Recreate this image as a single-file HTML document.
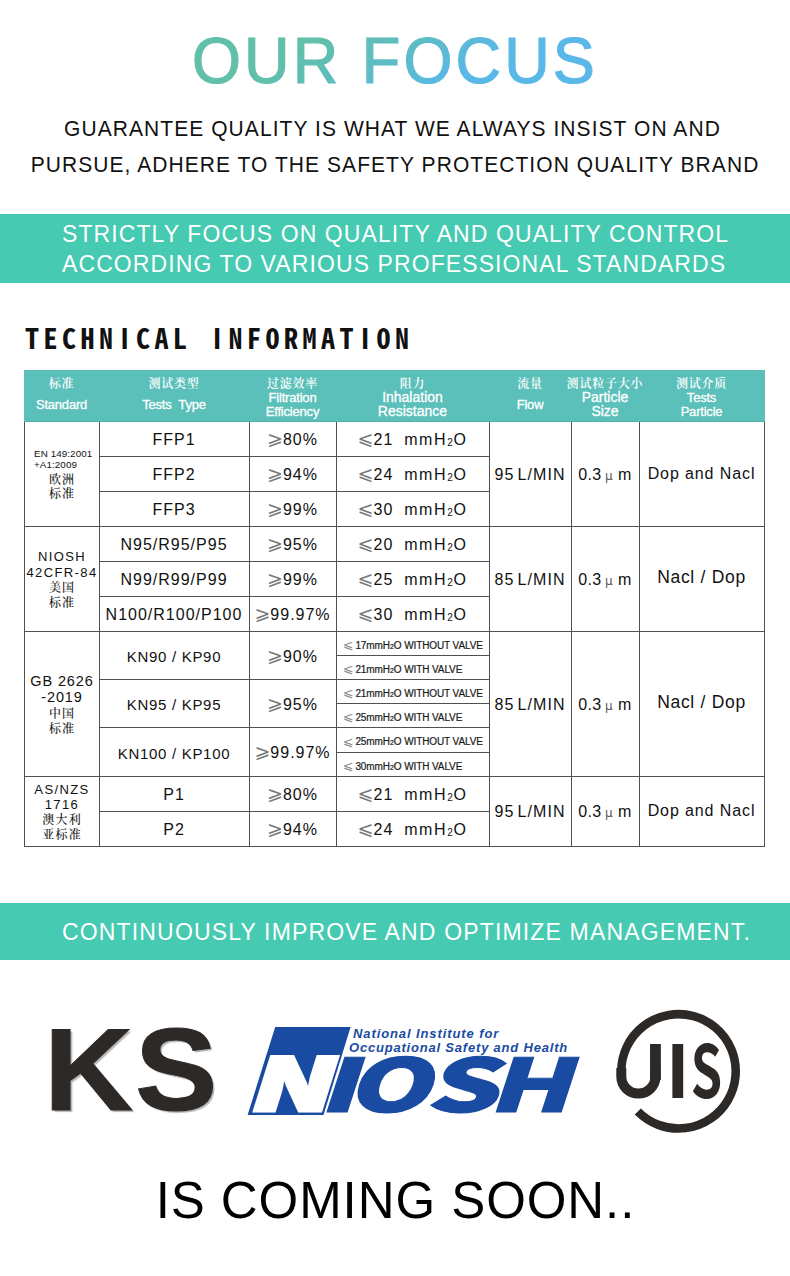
<!DOCTYPE html>
<html><head><meta charset="utf-8">
<style>
*{margin:0;padding:0;box-sizing:border-box}
html,body{width:790px;height:1276px;background:#fff;overflow:hidden}
body{position:relative;font-family:"Liberation Sans",Arial,sans-serif;color:#111}
.abs{position:absolute}
.sub{left:0;width:790px;text-align:center;font-size:21px;line-height:36px;letter-spacing:1.06px;color:#111;white-space:nowrap;transform:scaleY(1.08);transform-origin:0 27px}
.band{left:0;width:790px;background:#46cab1;color:#fff;font-size:23px;letter-spacing:1.09px;white-space:nowrap}
#band1{top:214px;height:69px;padding:5.3px 0 0 62px;line-height:30.1px}
#band2{top:903px;height:57px;padding:14px 0 0 62px;line-height:30px;letter-spacing:1.16px}
#tech{left:25px;top:320px;font-family:"Noto Sans Mono CJK SC","WenQuanYi Zen Hei Mono",monospace;font-weight:bold;font-size:28px;letter-spacing:4.5px;line-height:34px;color:#111}
.ti{display:inline-block;width:18.52px;padding-left:2.4px;letter-spacing:0;font-family:"Noto Sans CJK SC",sans-serif;font-weight:bold}
.hd{position:absolute;background:#5bbfba;border-bottom:1px solid #52b0a9}
.hl{position:absolute;height:1px;background:#505050}
.vl{position:absolute;width:1px;background:#505050}
.h,.c{position:absolute;text-align:center;color:#fff;white-space:nowrap}
.h{display:flex;flex-direction:column;align-items:center}
.c{display:flex;align-items:center;justify-content:center;color:#111;white-space:nowrap}
.hc{font-family:"Noto Serif CJK SC",serif;font-weight:600;font-size:12px;line-height:14px;letter-spacing:0.8px;margin-top:6px}
.he1{-webkit-text-stroke:0.3px #fff;font-size:13px;line-height:14px;margin-top:8px;letter-spacing:-0.2px;word-spacing:3.6px}
.he2{-webkit-text-stroke:0.3px #fff;font-size:13px;line-height:13.5px;margin-top:1px;letter-spacing:-0.2px}
.he2.big{font-size:14px;letter-spacing:0}
.tt{font-size:16px;letter-spacing:1px}
.tt>div,.mv>div{position:relative;top:1.3px}
.fl{letter-spacing:1.1px}
.md{letter-spacing:0.9px}
.md>div{top:0px}
.md2{font-size:17.5px;letter-spacing:0.7px}
.md2>div{top:-1px}
.kn{font-size:15px;letter-spacing:0.7px}
.kn>div{top:1.8px}
.ge{font-family:"DejaVu Sans",sans-serif;color:#777;font-size:19px;letter-spacing:0;line-height:16px}
.ge2{font-family:"DejaVu Sans",sans-serif;color:#888;-webkit-text-stroke:0;font-size:12.5px;font-weight:normal;margin-right:2px;position:relative;top:0.5px}
.mmu{letter-spacing:1.6px}
.s2b{font-size:7px;letter-spacing:0}
.s2{font-size:10px;letter-spacing:0.6px;position:relative;top:0.6px}
.mv{font-size:10px;color:#1a1a1a;-webkit-text-stroke:0.2px #1a1a1a;letter-spacing:-0.1px;justify-content:flex-start;padding-left:7px}
.sl{position:absolute;white-space:nowrap;color:#111}
.s1{font-size:9.8px;line-height:12px;letter-spacing:0.1px}
.s2l{font-size:13px;line-height:14px;letter-spacing:1.4px;padding-left:1px}
.s3{font-size:14.5px;line-height:15px;letter-spacing:0.9px;padding-left:1px}
.sc{font-family:"Noto Serif CJK SC",serif;font-weight:500;font-size:12px;line-height:14px;letter-spacing:1.2px;padding-left:1.2px}
.um{letter-spacing:0.3px}
.mu{font-family:"DejaVu Sans",sans-serif;font-size:12px;color:#555;margin:0 5.5px 0 3.5px;letter-spacing:0}
</style></head><body>
<svg class="abs" style="left:0;top:0" width="790" height="100" viewBox="0 0 790 100">
 <defs><linearGradient id="tg" gradientUnits="userSpaceOnUse" x1="124.2" y1="-49.9" x2="199.4" y2="64.8">
  <stop offset="0" stop-color="#61c0a7"/><stop offset="0.45" stop-color="#5dbcc4"/><stop offset="0.8" stop-color="#5ab8e4"/><stop offset="1" stop-color="#5ab8e8"/></linearGradient></defs>
 <text x="0" y="0" transform="translate(192,82.7) scale(1,1.025)" font-family="Liberation Sans" font-size="63" letter-spacing="3.1" fill="url(#tg)" stroke="url(#tg)" stroke-width="1.2">OUR FOCUS</text>
</svg>
<div class="abs sub" style="top:111px;padding-right:5px">GUARANTEE QUALITY IS WHAT WE ALWAYS INSIST ON AND</div>
<div class="abs sub" style="top:147px;padding-right:0px">PURSUE, ADHERE TO THE SAFETY PROTECTION QUALITY BRAND</div>
<div id="band1" class="abs band">STRICTLY FOCUS ON QUALITY AND QUALITY CONTROL<br>ACCORDING TO VARIOUS PROFESSIONAL STANDARDS</div>
<div id="tech" class="abs">TECHN<span class="ti">I</span>CAL <span class="ti">I</span>NFORMAT<span class="ti">I</span>ON</div>
<div class="hd" style="left:24px;top:370px;width:741px;height:52px"></div>
<div class="h" style="left:24px;top:370px;width:75px;height:51px;"><div class="hc">标准</div><div class="he1">Standard</div></div>
<div class="h" style="left:99px;top:370px;width:150px;height:51px;"><div class="hc">测试类型</div><div class="he1">Tests Type</div></div>
<div class="h" style="left:249px;top:370px;width:87px;height:51px;"><div class="hc">过滤效率</div><div class="he2">Filtration<br>Efficiency</div></div>
<div class="h" style="left:336px;top:370px;width:153px;height:51px;"><div class="hc">阻力</div><div class="he2 big">Inhalation<br>Resistance</div></div>
<div class="h" style="left:489px;top:370px;width:82px;height:51px;"><div class="hc">流量</div><div class="he1">Flow</div></div>
<div class="h" style="left:571px;top:370px;width:68px;height:51px;"><div class="hc">测试粒子大小</div><div class="he2 big">Particle<br>Size</div></div>
<div class="h" style="left:639px;top:370px;width:125px;height:51px;"><div class="hc">测试介质</div><div class="he2">Tests<br>Particle</div></div>
<div class="c tt" style="left:99px;top:421px;width:150px;height:35px;"><div>FFP1</div></div>
<div class="c tt" style="left:249px;top:421px;width:87px;height:35px;"><div><span class="ge">⩾</span>80%</div></div>
<div class="c tt" style="left:336px;top:421px;width:153px;height:35px;"><div><span class="ge">⩽</span>21&nbsp; <span class="mmu">mmH<span class="s2">2</span>O</span></div></div>
<div class="c tt" style="left:99px;top:456px;width:150px;height:35px;"><div>FFP2</div></div>
<div class="c tt" style="left:249px;top:456px;width:87px;height:35px;"><div><span class="ge">⩾</span>94%</div></div>
<div class="c tt" style="left:336px;top:456px;width:153px;height:35px;"><div><span class="ge">⩽</span>24&nbsp; <span class="mmu">mmH<span class="s2">2</span>O</span></div></div>
<div class="hl" style="left:99px;top:456px;width:391px"></div>
<div class="c tt" style="left:99px;top:491px;width:150px;height:35px;"><div>FFP3</div></div>
<div class="c tt" style="left:249px;top:491px;width:87px;height:35px;"><div><span class="ge">⩾</span>99%</div></div>
<div class="c tt" style="left:336px;top:491px;width:153px;height:35px;"><div><span class="ge">⩽</span>30&nbsp; <span class="mmu">mmH<span class="s2">2</span>O</span></div></div>
<div class="hl" style="left:99px;top:491px;width:391px"></div>
<div class="c tt fl" style="left:489px;top:421px;width:82px;height:105px;"><div>95<span style="margin-left:3px">L/MIN</span></div></div>
<div class="c tt um" style="left:571px;top:421px;width:68px;height:105px;"><div>0.3<span class="mu">μ</span>m</div></div>
<div class="c tt md" style="left:639px;top:421px;width:125px;height:105px;"><div>Dop and Nacl</div></div>
<div class="hl" style="left:24px;top:526px;width:741px"></div>
<div class="c tt" style="left:99px;top:526px;width:150px;height:35px;"><div>N95/R95/P95</div></div>
<div class="c tt" style="left:249px;top:526px;width:87px;height:35px;"><div><span class="ge">⩾</span>95%</div></div>
<div class="c tt" style="left:336px;top:526px;width:153px;height:35px;"><div><span class="ge">⩽</span>20&nbsp; <span class="mmu">mmH<span class="s2">2</span>O</span></div></div>
<div class="c tt" style="left:99px;top:561px;width:150px;height:35px;"><div>N99/R99/P99</div></div>
<div class="c tt" style="left:249px;top:561px;width:87px;height:35px;"><div><span class="ge">⩾</span>99%</div></div>
<div class="c tt" style="left:336px;top:561px;width:153px;height:35px;"><div><span class="ge">⩽</span>25&nbsp; <span class="mmu">mmH<span class="s2">2</span>O</span></div></div>
<div class="hl" style="left:99px;top:561px;width:391px"></div>
<div class="c tt" style="left:99px;top:596px;width:150px;height:35px;"><div>N100/R100/P100</div></div>
<div class="c tt" style="left:249px;top:596px;width:87px;height:35px;"><div><span class="ge">⩾</span>99.97%</div></div>
<div class="c tt" style="left:336px;top:596px;width:153px;height:35px;"><div><span class="ge">⩽</span>30&nbsp; <span class="mmu">mmH<span class="s2">2</span>O</span></div></div>
<div class="hl" style="left:99px;top:596px;width:391px"></div>
<div class="c tt fl" style="left:489px;top:526px;width:82px;height:105px;"><div>85<span style="margin-left:3px">L/MIN</span></div></div>
<div class="c tt um" style="left:571px;top:526px;width:68px;height:105px;"><div>0.3<span class="mu">μ</span>m</div></div>
<div class="c tt md2" style="left:639px;top:526px;width:125px;height:105px;"><div>Nacl / Dop</div></div>
<div class="hl" style="left:24px;top:631px;width:741px"></div>
<div class="c tt kn" style="left:99px;top:631px;width:150px;height:48px;"><div>KN90 / KP90</div></div>
<div class="c tt" style="left:249px;top:631px;width:87px;height:48px;"><div><span class="ge">⩾</span>90%</div></div>
<div class="c mv" style="left:336px;top:631px;width:153px;height:24px;"><div><span class="ge2">⩽</span>17mmH<span class="s2b">2</span>O WITHOUT VALVE</div></div>
<div class="c mv" style="left:336px;top:655px;width:153px;height:24px;"><div><span class="ge2">⩽</span>21mmH<span class="s2b">2</span>O WITH VALVE</div></div>
<div class="hl" style="left:336px;top:655px;width:154px"></div>
<div class="c tt kn" style="left:99px;top:679px;width:150px;height:48px;"><div>KN95 / KP95</div></div>
<div class="c tt" style="left:249px;top:679px;width:87px;height:48px;"><div><span class="ge">⩾</span>95%</div></div>
<div class="c mv" style="left:336px;top:679px;width:153px;height:24px;"><div><span class="ge2">⩽</span>21mmH<span class="s2b">2</span>O WITHOUT VALVE</div></div>
<div class="c mv" style="left:336px;top:703px;width:153px;height:24px;"><div><span class="ge2">⩽</span>25mmH<span class="s2b">2</span>O WITH VALVE</div></div>
<div class="hl" style="left:336px;top:703px;width:154px"></div>
<div class="hl" style="left:99px;top:679px;width:391px"></div>
<div class="c tt kn" style="left:99px;top:727px;width:150px;height:49px;"><div>KN100 / KP100</div></div>
<div class="c tt" style="left:249px;top:727px;width:87px;height:49px;"><div><span class="ge">⩾</span>99.97%</div></div>
<div class="c mv" style="left:336px;top:727px;width:153px;height:25px;"><div><span class="ge2">⩽</span>25mmH<span class="s2b">2</span>O WITHOUT VALVE</div></div>
<div class="c mv" style="left:336px;top:752px;width:153px;height:24px;"><div><span class="ge2">⩽</span>30mmH<span class="s2b">2</span>O WITH VALVE</div></div>
<div class="hl" style="left:336px;top:752px;width:154px"></div>
<div class="hl" style="left:99px;top:727px;width:391px"></div>
<div class="c tt fl" style="left:489px;top:631px;width:82px;height:145px;"><div>85<span style="margin-left:3px">L/MIN</span></div></div>
<div class="c tt um" style="left:571px;top:631px;width:68px;height:145px;"><div>0.3<span class="mu">μ</span>m</div></div>
<div class="c tt md2" style="left:639px;top:631px;width:125px;height:145px;"><div>Nacl / Dop</div></div>
<div class="hl" style="left:24px;top:776px;width:741px"></div>
<div class="c tt" style="left:99px;top:776px;width:150px;height:35px;"><div>P1</div></div>
<div class="c tt" style="left:249px;top:776px;width:87px;height:35px;"><div><span class="ge">⩾</span>80%</div></div>
<div class="c tt" style="left:336px;top:776px;width:153px;height:35px;"><div><span class="ge">⩽</span>21&nbsp; <span class="mmu">mmH<span class="s2">2</span>O</span></div></div>
<div class="c tt" style="left:99px;top:811px;width:150px;height:35px;"><div>P2</div></div>
<div class="c tt" style="left:249px;top:811px;width:87px;height:35px;"><div><span class="ge">⩾</span>94%</div></div>
<div class="c tt" style="left:336px;top:811px;width:153px;height:35px;"><div><span class="ge">⩽</span>24&nbsp; <span class="mmu">mmH<span class="s2">2</span>O</span></div></div>
<div class="hl" style="left:99px;top:811px;width:391px"></div>
<div class="c tt fl" style="left:489px;top:776px;width:82px;height:70px;"><div>95<span style="margin-left:3px">L/MIN</span></div></div>
<div class="c tt um" style="left:571px;top:776px;width:68px;height:70px;"><div>0.3<span class="mu">μ</span>m</div></div>
<div class="c tt md" style="left:639px;top:776px;width:125px;height:70px;"><div>Dop and Nacl</div></div>
<div class="hl" style="left:24px;top:846px;width:741px"></div>
<div class="sl s1" style="left:34px;top:448.0px">EN 149:2001</div>
<div class="sl s1" style="left:34px;top:459.0px">+A1:2009</div>
<div class="sl sc" style="left:24px;width:75px;text-align:center;top:472.0px">欧洲</div>
<div class="sl sc" style="left:24px;width:75px;text-align:center;top:486.0px">标准</div>
<div class="sl s2l" style="left:24px;width:75px;text-align:center;top:550.0px">NIOSH</div>
<div class="sl s2l" style="left:24px;width:75px;text-align:center;top:565.6px">42CFR-84</div>
<div class="sl sc" style="left:24px;width:75px;text-align:center;top:580.0px">美国</div>
<div class="sl sc" style="left:24px;width:75px;text-align:center;top:595.0px">标准</div>
<div class="sl s3" style="left:24px;width:75px;text-align:center;top:673.5px">GB 2626</div>
<div class="sl s3" style="left:24px;width:75px;text-align:center;top:690.3px">-2019</div>
<div class="sl sc" style="left:24px;width:75px;text-align:center;top:706.3px">中国</div>
<div class="sl sc" style="left:24px;width:75px;text-align:center;top:721.0px">标准</div>
<div class="sl s2l" style="left:24px;width:75px;text-align:center;top:782.7px">AS/NZS</div>
<div class="sl s2l" style="left:24px;width:75px;text-align:center;top:797.9px">1716</div>
<div class="sl sc" style="left:24px;width:75px;text-align:center;top:812.3px">澳大利</div>
<div class="sl sc" style="left:24px;width:75px;text-align:center;top:827.0px">亚标准</div>
<div class="vl" style="left:24px;top:422px;height:425px"></div>
<div class="vl" style="left:99px;top:422px;height:425px"></div>
<div class="vl" style="left:249px;top:422px;height:425px"></div>
<div class="vl" style="left:336px;top:422px;height:425px"></div>
<div class="vl" style="left:489px;top:422px;height:425px"></div>
<div class="vl" style="left:571px;top:422px;height:425px"></div>
<div class="vl" style="left:639px;top:422px;height:425px"></div>
<div class="vl" style="left:764px;top:422px;height:425px"></div>
<div id="band2" class="abs band">CONTINUOUSLY IMPROVE AND OPTIMIZE MANAGEMENT.</div>
<div id="ks" class="abs" style="left:44px;top:995px;font-weight:bold;font-size:116px;line-height:150px;color:#2d2927;letter-spacing:1.8px;transform:scaleX(1.063);transform-origin:0 0;text-shadow:2px 2px 1px #b5b5b5;-webkit-text-stroke:1px #2d2927">KS</div>
<svg class="abs" style="left:240px;top:1015px" width="350" height="110" viewBox="240 1015 350 110">
 <polygon points="275.2,1027 350.6,1027 323.5,1115 247.6,1115" fill="#1a4ba2"/>
 <text transform="translate(245.4,1110.6) skewX(-17.5) scale(1.51,1)" font-family="Noto Sans CJK SC" font-weight="900" font-size="73" fill="#fff" stroke="#fff" stroke-width="3" stroke-linejoin="miter">N</text>
 <text transform="translate(317.1,1112) skewX(-18) scale(1.43,0.98)" y="0" font-family="Noto Sans CJK SC" font-weight="900" font-size="75" fill="#1a4ba2" stroke="#1a4ba2" stroke-width="1"><tspan x="0.4" textLength="27" lengthAdjust="spacingAndGlyphs">I</tspan><tspan x="19.77">O</tspan><tspan x="75" textLength="51" lengthAdjust="spacingAndGlyphs">S</tspan><tspan x="118.99">H</tspan></text>
 <text x="353" y="1037.6" font-family="Liberation Sans" font-weight="bold" font-style="italic" font-size="13" letter-spacing="0.9" fill="#1a4ba2">National Institute for</text>
 <text x="349" y="1051.9" font-family="Liberation Sans" font-weight="bold" font-style="italic" font-size="13" letter-spacing="0.8" fill="#1a4ba2">Occupational Safety and Health</text>
</svg>
<svg class="abs" style="left:600px;top:1000px" width="160" height="140" viewBox="600 1000 160 140">
 <path d="M637.8,1111.5 A57.2,57.2 0 1 0 621.3,1071 L621.3,1073" fill="none" stroke="#2d2927" stroke-width="8.6"/>
 <path d="M621.3,1068 L621.3,1076.5 A17.1,17.1 0 0 0 655.5,1076.5 L655.5,1066" fill="none" stroke="#2d2927" stroke-width="10"/>
 <clipPath id="jc"><rect x="600" y="1000" width="160" height="80"/></clipPath>
 <text y="1097.8" font-family="Noto Sans CJK SC" font-weight="bold" font-size="73" fill="#2d2927"><tspan x="625.8" clip-path="url(#jc)">J</tspan><tspan x="665.8">I</tspan><tspan x="690.7" textLength="31.4" lengthAdjust="spacingAndGlyphs">S</tspan></text>
</svg>
<div id="soon" class="abs" style="left:0;top:1170.5px;width:790px;text-align:center;font-size:51px;line-height:60px;color:#000;letter-spacing:0.93px;padding-left:1px">IS COMING SOON..</div>
</body></html>
